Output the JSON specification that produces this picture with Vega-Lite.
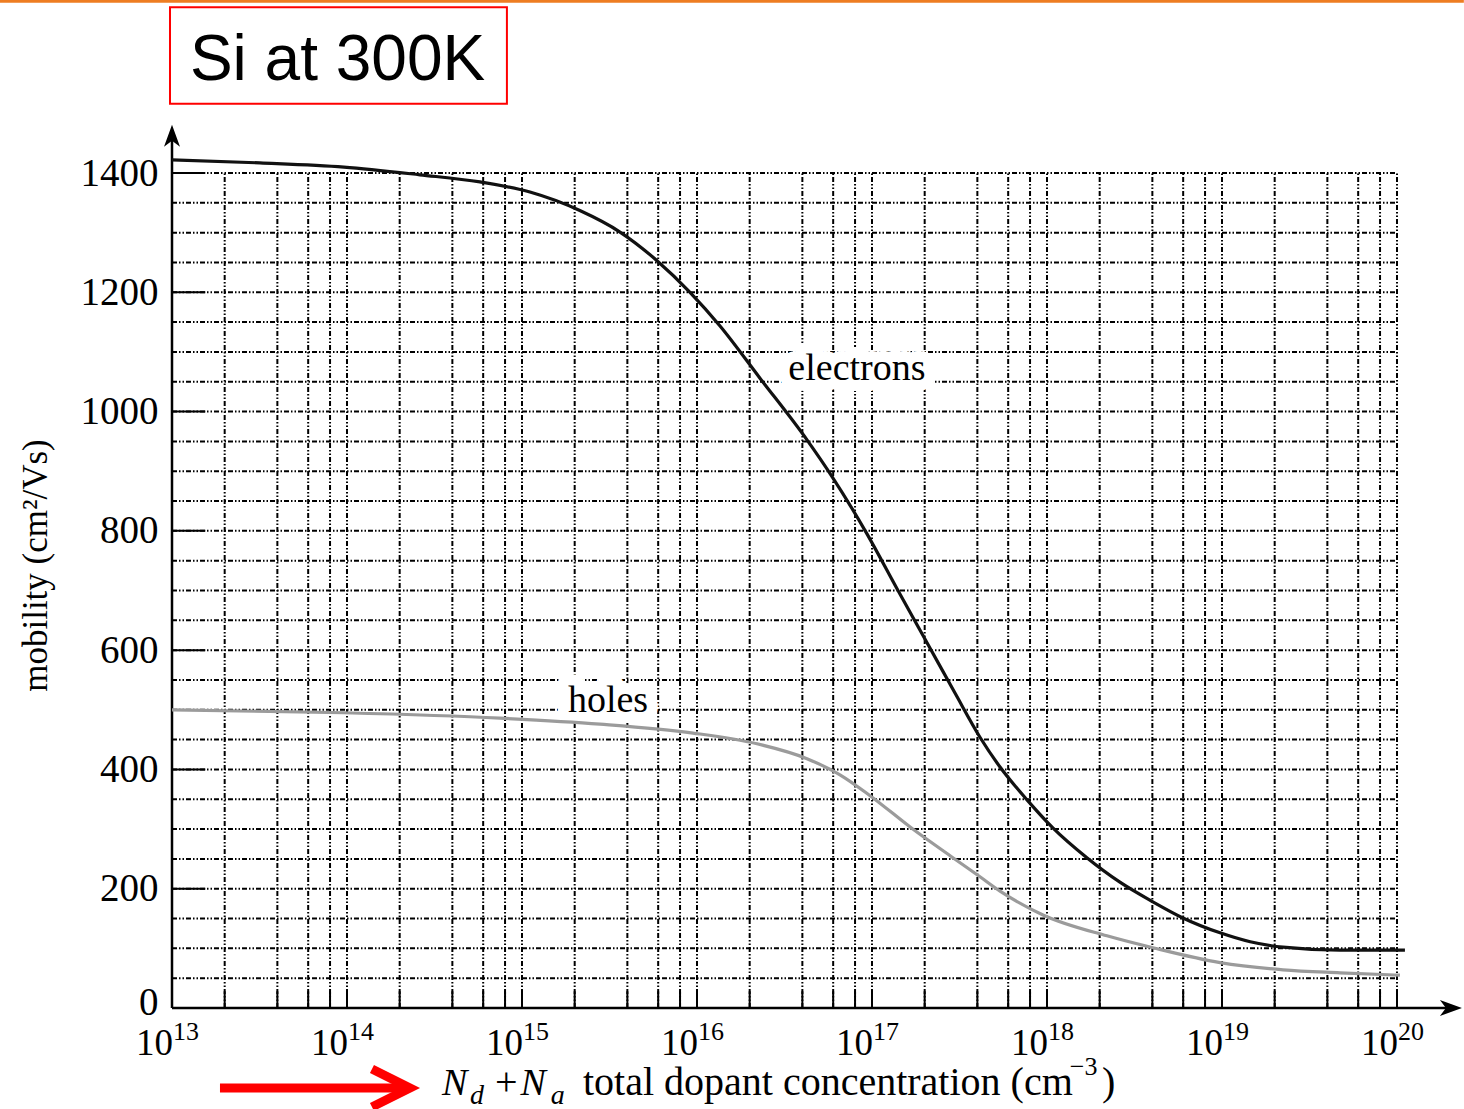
{
  "$schema": "https://vega.github.io/schema/vega-lite/v6.json",
  "width": 1225,
  "height": 835,
  "autosize": {"type": "none"},
  "padding": {"left": 172, "top": 173, "right": 67, "bottom": 101},
  "background": "white",
  "config": {"view": {"stroke": null}},
  "datasets": {
    "curves": [
      {"N": 1e13, "mu": 1422, "carrier": "electrons"},
      {"N": 3.18e13, "mu": 1417, "carrier": "electrons"},
      {"N": 9.6e13, "mu": 1410, "carrier": "electrons"},
      {"N": 2.61e14, "mu": 1397, "carrier": "electrons"},
      {"N": 5.75e14, "mu": 1385, "carrier": "electrons"},
      {"N": 1.11e15, "mu": 1368, "carrier": "electrons"},
      {"N": 2.14e15, "mu": 1337, "carrier": "electrons"},
      {"N": 3.63e15, "mu": 1301, "carrier": "electrons"},
      {"N": 5.91e15, "mu": 1253, "carrier": "electrons"},
      {"N": 9.12e15, "mu": 1200, "carrier": "electrons"},
      {"N": 1.35e16, "mu": 1144, "carrier": "electrons"},
      {"N": 2.29e16, "mu": 1056, "carrier": "electrons"},
      {"N": 4.31e16, "mu": 950, "carrier": "electrons"},
      {"N": 5.91e16, "mu": 891, "carrier": "electrons"},
      {"N": 9.36e16, "mu": 795, "carrier": "electrons"},
      {"N": 1.39e17, "mu": 703, "carrier": "electrons"},
      {"N": 2.14e17, "mu": 604, "carrier": "electrons"},
      {"N": 2.98e17, "mu": 528, "carrier": "electrons"},
      {"N": 4.14e17, "mu": 454, "carrier": "electrons"},
      {"N": 5.39e17, "mu": 404, "carrier": "electrons"},
      {"N": 7.69e17, "mu": 349, "carrier": "electrons"},
      {"N": 1.08e18, "mu": 302, "carrier": "electrons"},
      {"N": 1.69e18, "mu": 252, "carrier": "electrons"},
      {"N": 2.61e18, "mu": 211, "carrier": "electrons"},
      {"N": 4.03e18, "mu": 178, "carrier": "electrons"},
      {"N": 5.98e18, "mu": 151, "carrier": "electrons"},
      {"N": 9.75e18, "mu": 126, "carrier": "electrons"},
      {"N": 1.45e19, "mu": 111, "carrier": "electrons"},
      {"N": 2.23e19, "mu": 102, "carrier": "electrons"},
      {"N": 4.72e19, "mu": 97, "carrier": "electrons"},
      {"N": 1.11e20, "mu": 97, "carrier": "electrons"},
      {"N": 1e13, "mu": 500, "carrier": "holes"},
      {"N": 9.6e13, "mu": 495, "carrier": "holes"},
      {"N": 7.48e14, "mu": 486, "carrier": "holes"},
      {"N": 2.79e15, "mu": 476, "carrier": "holes"},
      {"N": 9.49e15, "mu": 461, "carrier": "holes"},
      {"N": 2.2e16, "mu": 443, "carrier": "holes"},
      {"N": 4.25e16, "mu": 418, "carrier": "holes"},
      {"N": 6.56e16, "mu": 391, "carrier": "holes"},
      {"N": 9.75e16, "mu": 356, "carrier": "holes"},
      {"N": 1.71e17, "mu": 300, "carrier": "holes"},
      {"N": 2.9e17, "mu": 252, "carrier": "holes"},
      {"N": 4.14e17, "mu": 220, "carrier": "holes"},
      {"N": 5.39e17, "mu": 196, "carrier": "holes"},
      {"N": 9.49e17, "mu": 156, "carrier": "holes"},
      {"N": 2.2e18, "mu": 121, "carrier": "holes"},
      {"N": 4.03e18, "mu": 101, "carrier": "holes"},
      {"N": 9.75e18, "mu": 76, "carrier": "holes"},
      {"N": 2.23e19, "mu": 64, "carrier": "holes"},
      {"N": 4.72e19, "mu": 59, "carrier": "holes"},
      {"N": 1.04e20, "mu": 55, "carrier": "holes"}
    ],
    "decades": [
      {"N": 1e13, "e": "13"}, {"N": 1e14, "e": "14"}, {"N": 1e15, "e": "15"}, {"N": 1e16, "e": "16"},
      {"N": 1e17, "e": "17"}, {"N": 1e18, "e": "18"}, {"N": 1e19, "e": "19"}, {"N": 1e20, "e": "20"}
    ],
    "xgrid": [
      {"N": 2e13}, {"N": 4e13}, {"N": 6e13}, {"N": 8e13}, {"N": 1e14},
      {"N": 2e14}, {"N": 4e14}, {"N": 6e14}, {"N": 8e14}, {"N": 1e15},
      {"N": 2e15}, {"N": 4e15}, {"N": 6e15}, {"N": 8e15}, {"N": 1e16},
      {"N": 2e16}, {"N": 4e16}, {"N": 6e16}, {"N": 8e16}, {"N": 1e17},
      {"N": 2e17}, {"N": 4e17}, {"N": 6e17}, {"N": 8e17}, {"N": 1e18},
      {"N": 2e18}, {"N": 4e18}, {"N": 6e18}, {"N": 8e18}, {"N": 1e19},
      {"N": 2e19}, {"N": 4e19}, {"N": 6e19}, {"N": 8e19}, {"N": 1e20}
    ],
    "ygrid": [
      {"mu": 50}, {"mu": 100}, {"mu": 150}, {"mu": 200}, {"mu": 250}, {"mu": 300}, {"mu": 350},
      {"mu": 400}, {"mu": 450}, {"mu": 500}, {"mu": 550}, {"mu": 600}, {"mu": 650}, {"mu": 700},
      {"mu": 750}, {"mu": 800}, {"mu": 850}, {"mu": 900}, {"mu": 950}, {"mu": 1000}, {"mu": 1050},
      {"mu": 1100}, {"mu": 1150}, {"mu": 1200}, {"mu": 1250}, {"mu": 1300}, {"mu": 1350}, {"mu": 1400}
    ]
  },
  "layer": [
    {
      "data": {"name": "ygrid"},
      "mark": {"type": "rule", "stroke": "#000", "strokeWidth": 2, "strokeDash": [5, 2, 1.5, 2, 1.5, 2]},
      "encoding": {
        "y": {
          "field": "mu", "type": "quantitative",
          "scale": {"domain": [0, 1400], "nice": false, "zero": false},
          "axis": {
            "values": [0, 200, 400, 600, 800, 1000, 1200, 1400],
            "format": "d",
            "labelFont": "Liberation Serif", "labelFontSize": 39, "labelColor": "#000",
            "labelPadding": 14, "labelFlush": false, "labelOverlap": false,
            "labelOffset": {"condition": {"test": "datum.value === 0", "value": -6}, "value": 0},
            "ticks": false, "domain": false, "grid": false,
            "title": "mobility (cm²/Vs)", "titleFont": "Liberation Serif", "titleFontSize": 35,
            "titleFontWeight": "normal", "titleColor": "#000",
            "titleX": -137, "titleY": 392, "titleAngle": -90, "titleAlign": "center", "titleBaseline": "middle"
          }
        },
        "x": {
          "datum": 1e13, "type": "quantitative",
          "scale": {"type": "log", "domain": [1e13, 1e20], "nice": false},
          "axis": null
        },
        "x2": {"datum": 1e20}
      }
    },
    {
      "data": {"name": "xgrid"},
      "mark": {"type": "rule", "stroke": "#000", "strokeWidth": 2, "strokeDash": [5, 2, 1.5, 2, 1.5, 2]},
      "encoding": {
        "x": {"field": "N", "type": "quantitative"},
        "y": {"datum": 0, "type": "quantitative"},
        "y2": {"datum": 1400}
      }
    },
    {
      "data": {"name": "xgrid"},
      "mark": {"type": "rule", "stroke": "#000", "strokeWidth": 2},
      "encoding": {
        "x": {"field": "N", "type": "quantitative"},
        "y": {"datum": 0, "type": "quantitative"},
        "y2": {"datum": 28}
      }
    },
    {
      "data": {"name": "ygrid"},
      "transform": [{"filter": "datum.mu % 200 == 0"}],
      "mark": {"type": "rule", "stroke": "#000", "strokeWidth": 2},
      "encoding": {
        "y": {"field": "mu", "type": "quantitative"},
        "x": {"datum": 1e13, "type": "quantitative"},
        "x2": {"datum": 1.55e13}
      }
    },
    {
      "data": {"values": [{}]},
      "mark": {"type": "rule", "stroke": "#000", "strokeWidth": 2.5},
      "encoding": {
        "x": {"datum": 1e13, "type": "quantitative"},
        "y": {"datum": 0, "type": "quantitative"},
        "y2": {"datum": 1460}
      }
    },
    {
      "data": {"values": [{}]},
      "mark": {"type": "rule", "stroke": "#000", "strokeWidth": 2.5},
      "encoding": {
        "y": {"datum": 0, "type": "quantitative"},
        "x": {"datum": 1e13, "type": "quantitative"},
        "x2": {"datum": 2.1e20}
      }
    },
    {
      "data": {"values": [{}]},
      "mark": {"type": "point", "shape": "M0,0L0.8,2.2L0,1.6L-0.8,2.2Z", "size": 400, "filled": true, "color": "#000", "opacity": 1},
      "encoding": {
        "x": {"datum": 1e13, "type": "quantitative"},
        "y": {"datum": 1481, "type": "quantitative"}
      }
    },
    {
      "data": {"values": [{}]},
      "mark": {"type": "point", "shape": "M0,0L-2.2,-0.8L-1.6,0L-2.2,0.8Z", "size": 400, "filled": true, "color": "#000", "opacity": 1},
      "encoding": {
        "x": {"datum": 2.35e20, "type": "quantitative"},
        "y": {"datum": 0, "type": "quantitative"}
      }
    },
    {
      "data": {"name": "decades"},
      "mark": {"type": "text", "text": "10", "font": "Liberation Serif", "fontSize": 37, "align": "right", "baseline": "alphabetic", "dx": 1, "fill": "#000"},
      "encoding": {
        "x": {"field": "N", "type": "quantitative"},
        "y": {"datum": -79, "type": "quantitative"}
      }
    },
    {
      "data": {"name": "decades"},
      "mark": {"type": "text", "font": "Liberation Serif", "fontSize": 26, "align": "left", "baseline": "alphabetic", "dx": 1, "fill": "#000"},
      "encoding": {
        "x": {"field": "N", "type": "quantitative"},
        "y": {"datum": -54, "type": "quantitative"},
        "text": {"field": "e"}
      }
    },
    {
      "data": {"values": [{"label": "electrons", "N": 8.2e16, "mu": 1053}, {"label": "holes", "N": 3.1e15, "mu": 496}]},
      "mark": {"type": "text", "font": "Liberation Serif", "fontSize": 38, "align": "center", "baseline": "alphabetic", "stroke": "white", "strokeWidth": 22, "strokeJoin": "round", "fill": "white"},
      "encoding": {
        "x": {"field": "N", "type": "quantitative"},
        "y": {"field": "mu", "type": "quantitative"},
        "text": {"field": "label"}
      }
    },
    {
      "data": {"name": "curves"},
      "mark": {"type": "line", "strokeWidth": 3.2, "interpolate": "monotone"},
      "encoding": {
        "x": {"field": "N", "type": "quantitative"},
        "y": {"field": "mu", "type": "quantitative"},
        "color": {"field": "carrier", "type": "nominal", "scale": {"domain": ["electrons", "holes"], "range": ["#111111", "#9b9b9b"]}, "legend": null}
      }
    },
    {
      "data": {"values": [{"label": "electrons", "N": 8.2e16, "mu": 1053}, {"label": "holes", "N": 3.1e15, "mu": 496}]},
      "mark": {"type": "text", "font": "Liberation Serif", "fontSize": 38, "align": "center", "baseline": "alphabetic", "fill": "#000"},
      "encoding": {
        "x": {"field": "N", "type": "quantitative"},
        "y": {"field": "mu", "type": "quantitative"},
        "text": {"field": "label"}
      }
    },
    {
      "data": {"values": [{}]},
      "mark": {"type": "rect", "fill": "white", "stroke": "#ff0000", "strokeWidth": 2},
      "encoding": {
        "x": {"datum": 9.74e12, "type": "quantitative"},
        "x2": {"datum": 8.2e14},
        "y": {"datum": 1678, "type": "quantitative"},
        "y2": {"datum": 1516}
      }
    },
    {
      "data": {"values": [{"t": "Si at 300K"}]},
      "mark": {"type": "text", "font": "Liberation Sans", "fontSize": 64, "align": "center", "baseline": "alphabetic", "fill": "#000"},
      "encoding": {
        "x": {"datum": 8.83e13, "type": "quantitative"},
        "y": {"datum": 1556, "type": "quantitative"},
        "text": {"field": "t"}
      }
    },
    {
      "data": {"values": [{}]},
      "mark": {"type": "rule", "stroke": "#ee7d22", "strokeWidth": 3},
      "encoding": {
        "y": {"datum": 1688, "type": "quantitative"},
        "x": {"datum": 1.04e12, "type": "quantitative"},
        "x2": {"datum": 2.41e20}
      }
    },
    {
      "data": {"values": [{}]},
      "mark": {"type": "rule", "stroke": "#ff0000", "strokeWidth": 9},
      "encoding": {
        "y": {"datum": -134, "type": "quantitative"},
        "x": {"datum": 1.88e13, "type": "quantitative"},
        "x2": {"datum": 2.2e14}
      }
    },
    {
      "data": {"values": [{}]},
      "mark": {"type": "point", "shape": "M-1.9,-0.95L0,0L-1.9,0.95", "size": 1600, "filled": false, "stroke": "#ff0000", "strokeWidth": 9, "opacity": 1},
      "encoding": {
        "x": {"datum": 2.29e14, "type": "quantitative"},
        "y": {"datum": -134, "type": "quantitative"}
      }
    },
    {
      "data": {"values": [{"t": "N", "N": 3.49e14, "mu": -146.7}, {"t": "N", "N": 9.8e14, "mu": -146.7}]},
      "mark": {"type": "text", "font": "Liberation Serif", "fontStyle": "italic", "fontSize": 38, "align": "left", "baseline": "alphabetic", "fill": "#000"},
      "encoding": {
        "x": {"field": "N", "type": "quantitative"},
        "y": {"field": "mu", "type": "quantitative"},
        "text": {"field": "t"}
      }
    },
    {
      "data": {"values": [{"t": "d", "N": 5.05e14, "mu": -161}, {"t": "a", "N": 1.46e15, "mu": -161}]},
      "mark": {"type": "text", "font": "Liberation Serif", "fontStyle": "italic", "fontSize": 28, "align": "left", "baseline": "alphabetic", "fill": "#000"},
      "encoding": {
        "x": {"field": "N", "type": "quantitative"},
        "y": {"field": "mu", "type": "quantitative"},
        "text": {"field": "t"}
      }
    },
    {
      "data": {"values": [{"t": "+", "N": 7.0e14, "mu": -146.7}, {"t": "total dopant concentration (cm", "N": 2.23e15, "mu": -146.7}, {"t": ")", "N": 2.06e18, "mu": -146.7}]},
      "mark": {"type": "text", "font": "Liberation Serif", "fontSize": 40, "align": "left", "baseline": "alphabetic", "fill": "#000"},
      "encoding": {
        "x": {"field": "N", "type": "quantitative"},
        "y": {"field": "mu", "type": "quantitative"},
        "text": {"field": "t"}
      }
    },
    {
      "data": {"values": [{"t": "−3", "N": 1.35e18, "mu": -112}]},
      "mark": {"type": "text", "font": "Liberation Serif", "fontSize": 26, "align": "left", "baseline": "alphabetic", "fill": "#000"},
      "encoding": {
        "x": {"field": "N", "type": "quantitative"},
        "y": {"field": "mu", "type": "quantitative"},
        "text": {"field": "t"}
      }
    }
  ]
}
